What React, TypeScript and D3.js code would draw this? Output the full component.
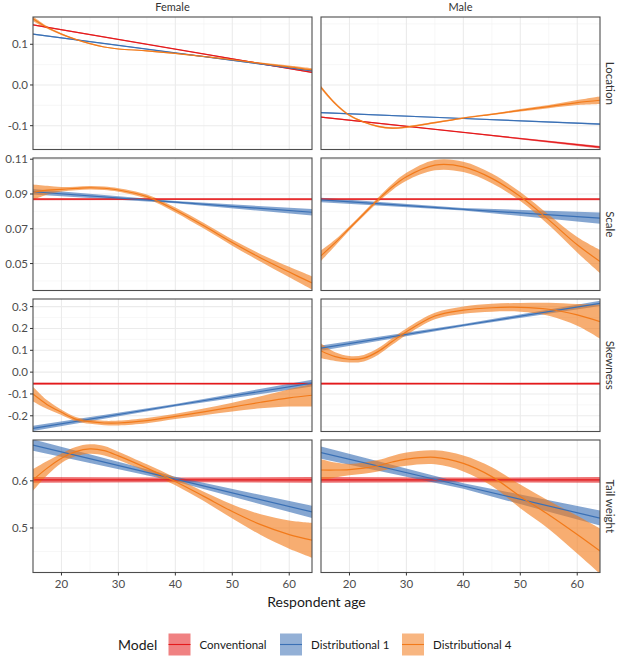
import React from "react";
import * as d3 from "d3";

// ---------- data ----------
const sexes = ["Female", "Male"];
const parameters = ["Location", "Scale", "Skewness", "Tail weight"];
const models = ["Conventional", "Distributional 1", "Distributional 4"];
const modelColors = ["#E41A1C", "#3A70B5", "#F27A1A"];

const xTicks = [20, 30, 40, 50, 60];
const xMinor = [25, 35, 45, 55];

const yDomains = [
  [-0.1585, 0.167],
  [0.0345, 0.1107],
  [-0.272, 0.335],
  [0.4055, 0.6867],
];
const yTicks = [
  [-0.1, 0.0, 0.1],
  [0.05, 0.07, 0.09, 0.11],
  [-0.2, -0.1, 0.0, 0.1, 0.2, 0.3],
  [0.5, 0.6],
];
const yTickLabels = [
  ["-0.1", "0.0", "0.1"],
  ["0.05", "0.07", "0.09", "0.11"],
  ["-0.2", "-0.1", "0.0", "0.1", "0.2", "0.3"],
  ["0.5", "0.6"],
];
const yMinor = [
  [-0.15, -0.05, 0.05, 0.15],
  [0.04, 0.06, 0.08, 0.1],
  [-0.25, -0.15, -0.05, 0.05, 0.15, 0.25],
  [0.45, 0.55, 0.65],
];

// ages for linear fits and for the smooth (Distributional 4) fits
const lineAges = [15, 40, 64];
const ages = [15, 17.5, 20, 22.5, 25, 27.5, 30, 35, 40, 45, 50, 55, 60, 64];

// Conventional (fit, half-width of band) — order: [param][sex]
const convFit = [
  [[0.1477, 0.0881, 0.0309], [-0.0788, -0.1166, -0.1528]],
  [[0.087, 0.087, 0.087], [0.087, 0.087, 0.087]],
  [[-0.053, -0.053, -0.053], [-0.053, -0.053, -0.053]],
  [[0.602, 0.602, 0.602], [0.602, 0.602, 0.602]],
];
const convHw = [
  [[0.0015, 0.001, 0.0015], [0.0015, 0.001, 0.003]],
  [[0.0006, 0.0005, 0.0006], [0.0006, 0.0005, 0.0006]],
  [[0.005, 0.004, 0.005], [0.005, 0.004, 0.005]],
  [[0.006, 0.005, 0.006], [0.006, 0.005, 0.006]],
];

// Distributional 1
const d1Fit = [
  [[0.1247, 0.0788, 0.0348], [-0.068, -0.0823, -0.096]],
  [[0.0913, 0.0853, 0.0795], [0.0866, 0.0812, 0.0761]],
  [[-0.2575, -0.1518, -0.0503], [0.11, 0.2146, 0.315]],
  [[0.676, 0.6036, 0.534], [0.66, 0.5891, 0.521]],
];
const d1Hw = [
  [[0.0015, 0.001, 0.0015], [0.0015, 0.001, 0.002]],
  [[0.0016, 0.0006, 0.0019], [0.0013, 0.0007, 0.0032]],
  [[0.012, 0.006, 0.015], [0.012, 0.006, 0.012]],
  [[0.012, 0.005, 0.013], [0.013, 0.006, 0.016]],
];

// Distributional 4
const d4LocF = [0.1625, 0.141, 0.125, 0.112, 0.1015, 0.0933, 0.0884, 0.084, 0.0778, 0.07, 0.062, 0.053, 0.0447, 0.037];
const d4LocFHw = [0.006, 0.003, 0.002, 0.0015, 0.0015, 0.0015, 0.0015, 0.0015, 0.0015, 0.0015, 0.0018, 0.002, 0.003, 0.004];
const d4LocM = [-0.006, -0.0457, -0.0746, -0.091, -0.1017, -0.106, -0.1035, -0.0926, -0.0812, -0.072, -0.0622, -0.053, -0.0432, -0.0375];
const d4LocMHw = [0.004, 0.003, 0.002, 0.002, 0.002, 0.002, 0.002, 0.002, 0.002, 0.002, 0.003, 0.004, 0.006, 0.009];
const d4ScaleF = [0.091, 0.0922, 0.0927, 0.0932, 0.0936, 0.0933, 0.0923, 0.0885, 0.0808, 0.0717, 0.0621, 0.0532, 0.0451, 0.0388];
const d4ScaleFHw = [0.0045, 0.0025, 0.0013, 0.001, 0.001, 0.001, 0.001, 0.0012, 0.0014, 0.0016, 0.0018, 0.0022, 0.003, 0.0038];
const d4ScaleM = [0.0545, 0.062, 0.0703, 0.0785, 0.0866, 0.094, 0.0999, 0.1066, 0.1056, 0.099, 0.0885, 0.0751, 0.0608, 0.0512];
const d4ScaleMHw = [0.003, 0.0018, 0.0012, 0.0012, 0.0013, 0.0018, 0.0023, 0.003, 0.003, 0.0028, 0.0026, 0.003, 0.0045, 0.0067];
const d4SkewF = [-0.1005, -0.149, -0.184, -0.215, -0.227, -0.233, -0.233, -0.222, -0.203, -0.182, -0.16, -0.138, -0.118, -0.106];
const d4SkewFHw = [0.034, 0.02, 0.012, 0.01, 0.01, 0.01, 0.011, 0.012, 0.012, 0.015, 0.02, 0.028, 0.04, 0.052];
const d4SkewM = [0.097, 0.071, 0.059, 0.064, 0.094, 0.14, 0.185, 0.257, 0.284, 0.295, 0.297, 0.288, 0.262, 0.231];
const d4SkewMHw = [0.034, 0.02, 0.015, 0.015, 0.015, 0.015, 0.015, 0.015, 0.017, 0.018, 0.02, 0.03, 0.05, 0.078];
const d4TailF = [0.602, 0.627, 0.648, 0.662, 0.6677, 0.664, 0.653, 0.627, 0.5986, 0.567, 0.535, 0.507, 0.486, 0.474];
const d4TailFHw = [0.023, 0.015, 0.01, 0.01, 0.01, 0.01, 0.009, 0.008, 0.008, 0.01, 0.015, 0.022, 0.03, 0.037];
const d4TailM = [0.623, 0.623, 0.624, 0.627, 0.632, 0.64, 0.646, 0.65, 0.637, 0.609, 0.567, 0.528, 0.486, 0.451];
const d4TailMHw = [0.023, 0.016, 0.012, 0.012, 0.012, 0.013, 0.014, 0.015, 0.017, 0.02, 0.025, 0.03, 0.04, 0.048];

const d4Fit = [
  [d4LocF, d4LocM],
  [d4ScaleF, d4ScaleM],
  [d4SkewF, d4SkewM],
  [d4TailF, d4TailM],
];
const d4Hw = [
  [d4LocFHw, d4LocMHw],
  [d4ScaleFHw, d4ScaleMHw],
  [d4SkewFHw, d4SkewMHw],
  [d4TailFHw, d4TailMHw],
];

// ---------- layout ----------
const W = 617;
const H = 657;
const panelLeft = [33, 321];
const panelW = 279;
const panelTop = [17, 158, 299, 440];
const panelH = 132.5;
const FONT = "Lato, 'Open Sans', sans-serif";

type Pt = { a: number; y: number; hw: number };

function Panel({ r, c }: { r: number; c: number }) {
  const x0 = panelLeft[c];
  const y0 = panelTop[r];
  const x = d3.scaleLinear().domain([15, 64]).range([x0, x0 + panelW]);
  const y = d3.scaleLinear().domain(yDomains[r]).range([y0 + panelH, y0]);

  const series: { pts: Pt[]; smooth: boolean }[] = [
    { pts: lineAges.map((a, i) => ({ a, y: convFit[r][c][i], hw: convHw[r][c][i] })), smooth: false },
    { pts: lineAges.map((a, i) => ({ a, y: d1Fit[r][c][i], hw: d1Hw[r][c][i] })), smooth: false },
    { pts: ages.map((a, i) => ({ a, y: d4Fit[r][c][i], hw: d4Hw[r][c][i] })), smooth: true },
  ];

  const clipId = `clip-${r}-${c}`;
  return (
    <g>
      <defs>
        <clipPath id={clipId}>
          <rect x={x0} y={y0} width={panelW} height={panelH} />
        </clipPath>
      </defs>
      <rect x={x0} y={y0} width={panelW} height={panelH} fill="#fff" />
      {/* minor grid */}
      {xMinor.map((t) => (
        <line key={"xm" + t} x1={x(t)} x2={x(t)} y1={y0} y2={y0 + panelH} stroke="#f2f2f2" strokeWidth={0.6} />
      ))}
      {yMinor[r].map((t) => (
        <line key={"ym" + t} x1={x0} x2={x0 + panelW} y1={y(t)} y2={y(t)} stroke="#f2f2f2" strokeWidth={0.6} />
      ))}
      {/* major grid */}
      {xTicks.map((t) => (
        <line key={"xM" + t} x1={x(t)} x2={x(t)} y1={y0} y2={y0 + panelH} stroke="#ebebeb" strokeWidth={1.1} />
      ))}
      {yTicks[r].map((t) => (
        <line key={"yM" + t} x1={x0} x2={x0 + panelW} y1={y(t)} y2={y(t)} stroke="#ebebeb" strokeWidth={1.1} />
      ))}
      <g clipPath={`url(#${clipId})`}>
        {series.map((s, i) => {
          const area = d3
            .area<Pt>()
            .x((d) => x(d.a))
            .y0((d) => y(d.y - d.hw))
            .y1((d) => y(d.y + d.hw))
            .curve(s.smooth ? d3.curveCatmullRom : d3.curveLinear);
          return <path key={"rib" + i} d={area(s.pts) || ""} fill={modelColors[i]} fillOpacity={0.62} stroke="none" />;
        })}
        {series.map((s, i) => {
          const line = d3
            .line<Pt>()
            .x((d) => x(d.a))
            .y((d) => y(d.y))
            .curve(s.smooth ? d3.curveCatmullRom : d3.curveLinear);
          return <path key={"ln" + i} d={line(s.pts) || ""} fill="none" stroke={modelColors[i]} strokeWidth={1.2} />;
        })}
      </g>
      <rect x={x0} y={y0} width={panelW} height={panelH} fill="none" stroke="#4d4d4d" strokeWidth={1.1} />
      {/* y axis on left column */}
      {c === 0 &&
        yTicks[r].map((t, i) => (
          <g key={"yt" + t}>
            <line x1={x0 - 3} x2={x0} y1={y(t)} y2={y(t)} stroke="#333" strokeWidth={1} />
            <text x={x0 - 5} y={y(t)} dy="0.35em" textAnchor="end" fontSize={11.5} fill="#4d4d4d" fontFamily={FONT}>
              {yTickLabels[r][i]}
            </text>
          </g>
        ))}
      {/* x axis on bottom row */}
      {r === 3 &&
        xTicks.map((t) => (
          <g key={"xt" + t}>
            <line x1={x(t)} x2={x(t)} y1={y0 + panelH} y2={y0 + panelH + 3} stroke="#333" strokeWidth={1} />
            <text x={x(t)} y={y0 + panelH + 15.5} textAnchor="middle" fontSize={11.5} fill="#4d4d4d" fontFamily={FONT}>
              {t}
            </text>
          </g>
        ))}
      {/* strips */}
      {r === 0 && (
        <text x={x0 + panelW / 2} y={11} textAnchor="middle" fontSize={11} fill="#333" fontFamily={FONT}>
          {sexes[c]}
        </text>
      )}
      {c === 1 && (
        <text
          transform={`translate(${606},${y0 + panelH / 2}) rotate(90)`}
          textAnchor="middle"
          fontSize={11.5}
          fill="#333"
          fontFamily={FONT}
        >
          {parameters[r]}
        </text>
      )}
    </g>
  );
}

export default function App() {
  const legendKeysX = [168.5, 280, 402];
  const legendLabelX = [199.5, 311, 433];
  return (
    <svg
      width={W}
      height={H}
      viewBox={`0 0 ${W} ${H}`}
      style={{ position: "absolute", left: 0, top: 0, background: "#fff" }}
    >
      <rect x={0} y={0} width={W} height={H} fill="#fff" />
      {parameters.map((_, r) => sexes.map((_, c) => <Panel key={r + "-" + c} r={r} c={c} />))}
      <text x={(panelLeft[0] + panelLeft[1] + panelW) / 2} y={607} textAnchor="middle" fontSize={14} fill="#1a1a1a" fontFamily={FONT}>
        Respondent age
      </text>
      {/* legend */}
      <text x={118} y={650} fontSize={14} fill="#1a1a1a" fontFamily={FONT}>
        Model
      </text>
      {models.map((m, i) => (
        <g key={m}>
          <rect x={legendKeysX[i]} y={633.5} width={22} height={22} fill={modelColors[i]} fillOpacity={0.55} />
          <line
            x1={legendKeysX[i]}
            x2={legendKeysX[i] + 22}
            y1={644.5}
            y2={644.5}
            stroke={modelColors[i]}
            strokeWidth={1.1}
          />
          <text x={legendLabelX[i]} y={648.5} fontSize={11.5} fill="#1a1a1a" fontFamily={FONT}>
            {m}
          </text>
        </g>
      ))}
    </svg>
  );
}
